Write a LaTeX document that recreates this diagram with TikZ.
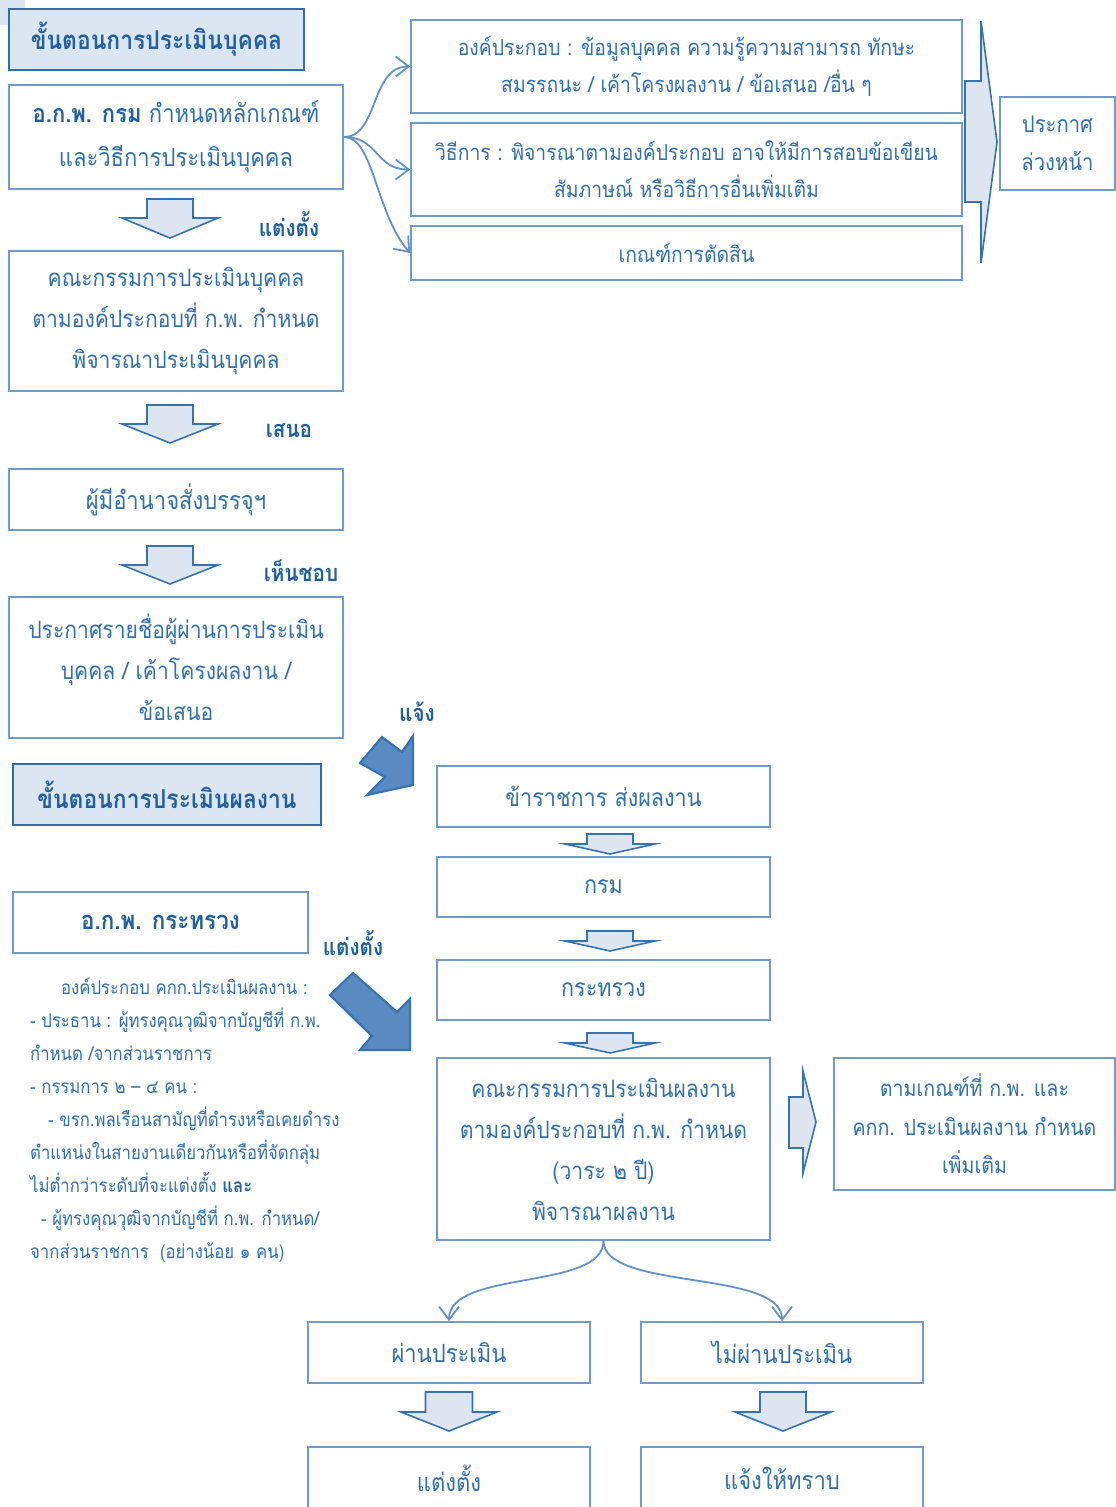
\documentclass[tikz,border=0pt]{standalone}
\usepackage{fontspec}
\setmainfont[Script=Thai,FakeStretch=0.88]{Loma}
\usetikzlibrary{arrows.meta}
\definecolor{boxc}{HTML}{6F9BCF}
\definecolor{hdrc}{HTML}{2E6EAD}
\definecolor{hdrfill}{HTML}{DCE6F2}
\definecolor{txtc}{HTML}{3070B2}
\definecolor{boldc}{HTML}{1F60A4}
\definecolor{arrline}{HTML}{3573B3}
\definecolor{arrfill}{HTML}{DDE5F1}
\definecolor{bigfill}{HTML}{5A8AC2}
\tikzset{
  box/.style={draw=boxc, line width=1.7pt, inner sep=0pt, text=txtc, align=center,
     font=\fontsize{24}{41}\selectfont},
  hdr/.style={draw=hdrc, fill=hdrfill, line width=2pt, inner sep=0pt, text=boldc,
     font=\fontsize{26}{30}\selectfont\bfseries},
  lbl/.style={text=boldc, font=\fontsize{23.5}{26}\selectfont\bfseries, inner sep=0pt},
  blk/.style={draw=arrline, fill=arrfill, line width=1.6pt, line join=miter},
  diag/.style={draw=arrline, fill=bigfill, line width=2.2pt, line join=miter},
  conn/.style={draw=boxc!80!hdrc, line width=1.8pt, -{Straight Barb[length=13pt,width=20pt,line width=1.8pt]}},
}
\newcommand{\downblk}[6]{% cx, top, shoulder, tip, shafthalf, headhalf
  \path[blk] (#1-#5,#2) -- (#1+#5,#2) -- (#1+#5,#3) -- (#1+#6,#3) -- (#1,#4)
     -- (#1-#6,#3) -- (#1-#5,#3) -- cycle;}
\begin{document}
\begin{tikzpicture}[x=1pt,y=-1pt]
\useasboundingbox[fill=white] (0,0) rectangle (1116,1507);
% corner artefact
\fill[hdrfill] (0,0) rectangle (25,25);
% ---------- upper part ----------
\node[hdr, minimum width=295pt, minimum height=61pt] (h1) at (156.5,39.5) {ขั้นตอนการประเมินบุคคล};
\node[box, minimum width=334pt, minimum height=104pt, font=\fontsize{25}{44}\selectfont] (A) at (176,137)
  {\textcolor{boldc}{\bfseries อ.ก.พ. กรม} กำหนดหลักเกณฑ์\\และวิธีการประเมินบุคคล};
\node[box, minimum width=334pt, minimum height=140pt] (B) at (176,321)
  {คณะกรรมการประเมินบุคคล\\ตามองค์ประกอบที่ ก.พ. กำหนด\\พิจารณาประเมินบุคคล};
\node[box, minimum width=334pt, minimum height=61pt, font=\fontsize{25}{41}\selectfont] (C) at (176,499.5) {ผู้มีอำนาจสั่งบรรจุฯ};
\node[box, minimum width=334pt, minimum height=141pt] (D) at (176,667.5)
  {ประกาศรายชื่อผู้ผ่านการประเมิน\\บุคคล / เค้าโครงผลงาน /\\ข้อเสนอ};
\downblk{170}{199}{218}{238}{23}{48}
\downblk{170}{405}{424}{443}{23}{48}
\downblk{170}{546}{565}{584}{23}{48}
\node[lbl] (l1) at (289,224) {แต่งตั้ง};
\node[lbl] (l2) at (289,431) {เสนอ};
\node[lbl] (l3) at (301,571) {เห็นชอบ};
\node[lbl] (l4) at (417,712) {แจ้ง};

\node[box, minimum width=551pt, minimum height=93pt, font=\fontsize{22}{37}\selectfont] (E1) at (686.5,66.5)
  {องค์ประกอบ : ข้อมูลบุคคล ความรู้ความสามารถ ทักษะ\\สมรรถนะ / เค้าโครงผลงาน / ข้อเสนอ /อื่น ๆ};
\node[box, minimum width=551pt, minimum height=93pt, font=\fontsize{22}{37}\selectfont] (E2) at (686.5,169.5)
  {วิธีการ : พิจารณาตามองค์ประกอบ อาจให้มีการสอบข้อเขียน\\สัมภาษณ์ หรือวิธีการอื่นเพิ่มเติม};
\node[box, minimum width=551pt, minimum height=54pt, font=\fontsize{22}{37}\selectfont] (E3) at (686.5,253) {เกณฑ์การตัดสิน};
\node[box, minimum width=115pt, minimum height=93pt, font=\fontsize{23}{38}\selectfont] (P) at (1057.5,143.5) {ประกาศ\\ล่วงหน้า};
\path[blk] (965,81) -- (981,81) -- (981,21) -- (997,142) -- (981,263) -- (981,202) -- (965,202) -- cycle;

\draw[conn] (A.east) .. controls +(35,0) and +(-40,0) .. (E1.west);
\draw[conn] (A.east) .. controls +(35,0) and +(-35,0) .. (E2.west);
\draw[conn] (A.east) .. controls +(30,0) and +(-35,-40) .. (E3.west);

% ---------- lower part ----------
\node[hdr, minimum width=308pt, minimum height=61pt] (h2) at (167,794.5) {ขั้นตอนการประเมินผลงาน};
\node[box, minimum width=295pt, minimum height=61pt, text=boldc, font=\fontsize{25.5}{30}\selectfont\bfseries] (K) at (160.5,922.5) {อ.ก.พ. กระทรวง};
\node[lbl] (l5) at (353,943) {แต่งตั้ง};
\node[text=txtc, align=left, anchor=north west, inner sep=0pt, font=\fontsize{19}{33}\selectfont] (comp) at (30,978)
  {\hspace*{31pt}องค์ประกอบ คกก.ประเมินผลงาน :\\
   - ประธาน : ผู้ทรงคุณวุฒิจากบัญชีที่ ก.พ.\\
   กำหนด /จากส่วนราชการ\\
   - กรรมการ ๒ – ๔ คน :\\
   \hspace*{18pt}- ขรก.พลเรือนสามัญที่ดำรงหรือเคยดำรง\\
   ตำแหน่งในสายงานเดียวกันหรือที่จัดกลุ่ม\\
   ไม่ต่ำกว่าระดับที่จะแต่งตั้ง \textcolor{boldc}{\bfseries และ}\\
   \hspace*{11pt}- ผู้ทรงคุณวุฒิจากบัญชีที่ ก.พ. กำหนด/\\
   จากส่วนราชการ~~(อย่างน้อย ๑ คน)};

\path[diag] (360,763) -- (382,737) -- (402,752) -- (413,736) -- (413,785) -- (367,795) -- (385,777) -- cycle;
\path[diag] (330,995) -- (353,973) -- (397,1012) -- (410,999) -- (410,1050) -- (360,1050) -- (372,1036) -- cycle;

\node[box, minimum width=333pt, minimum height=61pt, font=\fontsize{24.5}{41}\selectfont] (F1) at (603.5,796.5) {ข้าราชการ ส่งผลงาน};
\node[box, minimum width=333pt, minimum height=60pt, font=\fontsize{24.5}{41}\selectfont] (F2) at (603.5,887) {กรม};
\node[box, minimum width=333pt, minimum height=60pt, font=\fontsize{24.5}{41}\selectfont] (F3) at (603.5,990) {กระทรวง};
\node[box, minimum width=333pt, minimum height=182pt] (F4) at (603.5,1149)
  {คณะกรรมการประเมินผลงาน\\ตามองค์ประกอบที่ ก.พ. กำหนด\\(วาระ ๒ ปี)\\พิจารณาผลงาน};
\downblk{610}{834}{844}{854}{23}{45}
\downblk{610}{931}{941}{951}{23}{45}
\downblk{610}{1033}{1043}{1053}{23}{45}

\path[blk] (789,1097) -- (803,1097) -- (803,1071) -- (816,1122) -- (803,1173) -- (803,1148) -- (789,1148) -- cycle;
\node[box, minimum width=281pt, minimum height=132pt, font=\fontsize{22.3}{38.5}\selectfont] (G) at (974.5,1124)
  {ตามเกณฑ์ที่ ก.พ. และ\\คกก. ประเมินผลงาน กำหนด\\เพิ่มเติม};

\node[box, minimum width=282pt, minimum height=61pt, font=\fontsize{25}{41}\selectfont] (H1) at (449,1352.5) {ผ่านประเมิน};
\node[box, minimum width=282pt, minimum height=61pt, font=\fontsize{25}{41}\selectfont] (H2) at (782,1352.5) {ไม่ผ่านประเมิน};
\draw[conn] (F4.south) .. controls +(0,50) and +(0,-52) .. (H1.north);
\draw[conn] (F4.south) .. controls +(0,50) and +(0,-52) .. (H2.north);
\downblk{449}{1392}{1412}{1431}{23.5}{48}
\downblk{783}{1392}{1412}{1431}{23}{48}
\node[box, minimum width=282pt, minimum height=70pt, font=\fontsize{25}{41}\selectfont] (I1) at (449,1482) {\raisebox{8pt}{แต่งตั้ง}};
\node[box, minimum width=282pt, minimum height=70pt, font=\fontsize{25}{41}\selectfont] (I2) at (782,1482) {\raisebox{8pt}{แจ้งให้ทราบ}};
\end{tikzpicture}
\end{document}
